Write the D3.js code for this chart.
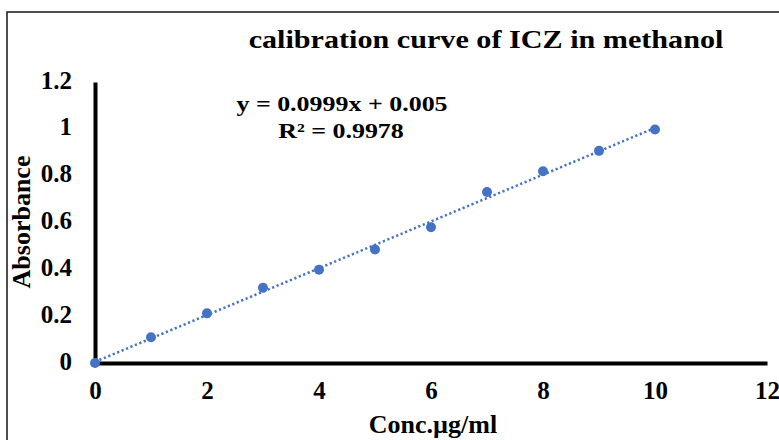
<!DOCTYPE html>
<html>
<head>
<meta charset="utf-8">
<script src="https://cdn.jsdelivr.net/npm/d3@7"></script>
<style>
  html, body { margin: 0; padding: 0; background: #fff; }
  svg { display: block; }
  text { font-family: "Liberation Serif", "Times New Roman", serif; font-weight: bold; fill: #000; }
</style>
</head>
<body>
<svg id="chart" width="779" height="440"></svg>
<script>
// Calibration standards (µg/ml) and measured absorbance
const concentrations = [0, 1, 2, 3, 4, 5, 6, 7, 8, 9, 10];
const absorbance = [0, 0.110, 0.212, 0.321, 0.398, 0.485, 0.580, 0.730, 0.819, 0.906, 0.997];
// Linear trendline y = slope * x + intercept
const slope = 0.0999;
const intercept = 0.005;
const rSquared = 0.9978;
const xTicks = [0, 2, 4, 6, 8, 10, 12];
const yTicks = [0, 0.2, 0.4, 0.6, 0.8, 1, 1.2];

const svg = d3.select("#chart");
const blue = "#4472C4";
const serif = "Liberation Serif, Times New Roman, serif";

// Chart frame
svg.append("rect")
  .attr("x", 7).attr("y", 12)
  .attr("width", 820).attr("height", 500)
  .attr("fill", "none").attr("stroke", "#222").attr("stroke-width", 1.6);

const x = d3.scaleLinear().domain([0, 12]).range([95, 767]);
const y = d3.scaleLinear().domain([0, 1.2]).range([363, 82]);

// Title (slightly widened lettering)
svg.append("text")
  .attr("transform", "translate(486,48) scale(1.16,1)")
  .attr("text-anchor", "middle")
  .attr("font-size", 26)
  .text("calibration curve of ICZ in methanol");

// Axes
const xAxis = svg.append("g").attr("transform", `translate(0,${y(0)})`)
  .call(d3.axisBottom(x).tickValues(xTicks).tickSize(0).tickFormat(d3.format("d")));
const yAxis = svg.append("g").attr("transform", `translate(${x(0)},0)`)
  .call(d3.axisLeft(y).tickValues(yTicks).tickSize(0).tickFormat(d => String(d)));

[xAxis, yAxis].forEach(g => {
  g.select(".domain").attr("stroke", "#000").attr("stroke-width", 4);
  g.selectAll(".tick text")
    .attr("font-family", serif)
    .attr("font-weight", "bold")
    .attr("font-size", 25)
    .attr("fill", "#000");
});
xAxis.selectAll(".tick text").attr("y", 36).attr("dy", null);
yAxis.selectAll(".tick text").attr("x", -23).attr("dy", 6);

// Axis titles
svg.append("text")
  .attr("transform", "translate(30,222) rotate(-90)")
  .attr("text-anchor", "middle")
  .attr("font-size", 26)
  .text("Absorbance");

svg.append("text")
  .attr("x", 433).attr("y", 433)
  .attr("text-anchor", "middle")
  .attr("font-size", 26)
  .text("Conc.µg/ml");

// Trendline
const fit = d3.line().x(d => x(d)).y(d => y(slope * d + intercept));
svg.append("path")
  .datum([0, 10])
  .attr("d", fit)
  .attr("fill", "none")
  .attr("stroke", blue)
  .attr("stroke-width", 2.5)
  .attr("stroke-dasharray", "2.2 2.6");

// Data points
svg.append("g").selectAll("circle")
  .data(concentrations.map((c, i) => [c, absorbance[i]]))
  .join("circle")
  .attr("cx", d => x(d[0]))
  .attr("cy", d => y(d[1]))
  .attr("r", 5)
  .attr("fill", blue);

// Regression equation
svg.append("text")
  .attr("transform", "translate(342,111) scale(1.18,1)")
  .attr("text-anchor", "middle")
  .attr("font-size", 22)
  .text(`y = ${slope}x + ${intercept}`);
svg.append("text")
  .attr("transform", "translate(341,138) scale(1.18,1)")
  .attr("text-anchor", "middle")
  .attr("font-size", 22)
  .text(`R² = ${rSquared}`);
</script>
</body>
</html>
